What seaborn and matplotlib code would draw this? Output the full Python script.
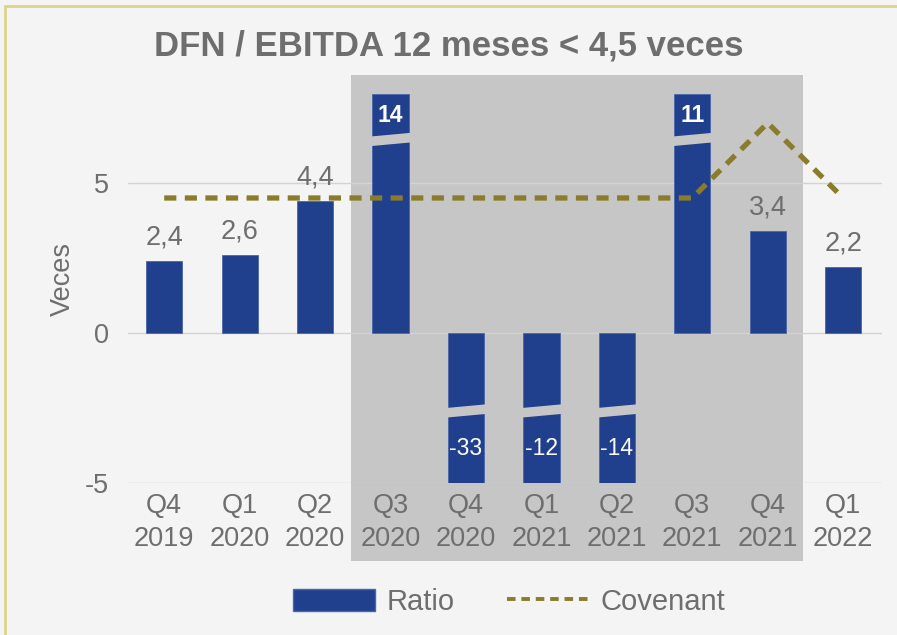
import seaborn as sns
import matplotlib.pyplot as plt
import pandas as pd
from matplotlib.patches import Rectangle, Polygon
from matplotlib.lines import Line2D

quarters = ["Q4\n2019", "Q1\n2020", "Q2\n2020", "Q3\n2020", "Q4\n2020",
            "Q1\n2021", "Q2\n2021", "Q3\n2021", "Q4\n2021", "Q1\n2022"]
ratio = [2.4, 2.6, 4.4, 14, -33, -12, -14, 11, 3.4, 2.2]
covenant = [4.5, 4.5, 4.5, 4.5, 4.5, 4.5, 4.5, 4.5, 7.0, 4.5]
ratio_labels = ["2,4", "2,6", "4,4", "14", "-33", "-12", "-14", "11", "3,4", "2,2"]

NAVY = "#203f8d"
OLIVE = "#8a7c2a"
GREY_TXT = "#6e6e6e"
BG = "#f4f4f4"
SHADE = "#c6c6c6"
y_min, y_max, clip_top = -5, 8.6, 7.95

sns.set_theme(style="whitegrid")
plt.rcParams["font.family"] = ["Liberation Sans", "DejaVu Sans"]

fig = plt.figure(figsize=(8.97, 6.35), dpi=100, facecolor=BG)
ax = fig.add_axes([0.1427, 0.2394, 0.841, 0.6425])
ax.set_facecolor(BG)

df = pd.DataFrame({"quarter": quarters, "ratio": ratio, "covenant": covenant})
df["shown"] = df["ratio"].clip(lower=y_min, upper=clip_top)

sns.barplot(data=df, x="quarter", y="shown", color=NAVY, width=0.48,
            saturation=1, edgecolor="#4a66aa", linewidth=0.6, ax=ax, zorder=2)

sns.lineplot(data=df, x="quarter", y="covenant", sort=False, color=OLIVE,
             linewidth=3.8, ax=ax, zorder=3)
ln = ax.get_lines()[-1]
ln.set_dashes((2.3, 1.6))

# shaded period Q3 2020 - Q4 2021 (runs down behind the tick labels)
shade = Rectangle((2.48, -7.6), 8.47 - 2.48, y_max + 7.6, facecolor=SHADE,
                  edgecolor="none", clip_on=False, zorder=0.2)
ax.add_patch(shade)

# value labels and broken bars
for bar, val, lab in zip(ax.patches, ratio, ratio_labels):
    x0 = bar.get_x()
    x1 = x0 + bar.get_width()
    xc = x0 + bar.get_width() / 2
    if val > clip_top or val < y_min:
        c = 6.45 if val > 0 else -2.6
        h, s = 0.16, 0.06
        gap = Polygon([(x0 - 0.02, c - h - s), (x1 + 0.02, c - h + s),
                       (x1 + 0.02, c + h + s), (x0 - 0.02, c + h - s)],
                      closed=True, facecolor=SHADE, edgecolor="none", zorder=2.5)
        ax.add_patch(gap)
        ty = 7.25 if val > 0 else -3.85
        ax.text(xc, ty, lab, color="white", ha="center", va="center",
                fontsize=16.5, fontweight="bold" if val > 0 else "normal", zorder=4)
    else:
        ax.text(xc, val + 0.35, lab, color=GREY_TXT, ha="center", va="bottom",
                fontsize=19.5, zorder=4)

ax.set_ylim(y_min, y_max)
ax.set_xlim(-0.48, 9.52)
ax.set_yticks([-5, 0, 5])
ax.set_yticklabels(["-5", "0", "5"])
ax.grid(axis="y", color="#d2d3da", linewidth=1)
ax.grid(axis="x", visible=False)
sns.despine(ax=ax, left=True, bottom=True)
ax.tick_params(axis="both", length=0, labelsize=19.5, labelcolor=GREY_TXT)
ax.tick_params(axis="x", pad=7)
ax.tick_params(axis="y", pad=14)
for t in ax.get_xticklabels():
    t.set_linespacing(1.35)
ax.set_xlabel("")
ax.set_ylabel("Veces", color=GREY_TXT, fontsize=19.5, labelpad=6)

fig.text(0.5, 0.928, "DFN / EBITDA 12 meses < 4,5 veces", ha="center",
         va="center", fontsize=25, fontweight="bold", color=GREY_TXT)

handles = [Rectangle((0, 0), 1, 1, facecolor=NAVY, edgecolor="#4a66aa"),
           Line2D([0], [0], color=OLIVE, linewidth=2.8, dashes=(2.2, 1.5))]
fig.legend(handles, ["Ratio", "Covenant"], loc="center", bbox_to_anchor=(0.568, 0.052),
           ncol=2, frameon=False, fontsize=21, labelcolor=GREY_TXT,
           handlelength=2.8, handleheight=0.8, columnspacing=1.8, handletextpad=0.4)

# outer gold border
fig.add_artist(Line2D([0.006, 0.006], [0, 0.991], color="#ddd38a", linewidth=2,
                      transform=fig.transFigure))
fig.add_artist(Line2D([0.006, 1], [0.991, 0.991], color="#ddd38a", linewidth=2,
                      transform=fig.transFigure))

fig.savefig("out.png", dpi=100, facecolor=BG)
